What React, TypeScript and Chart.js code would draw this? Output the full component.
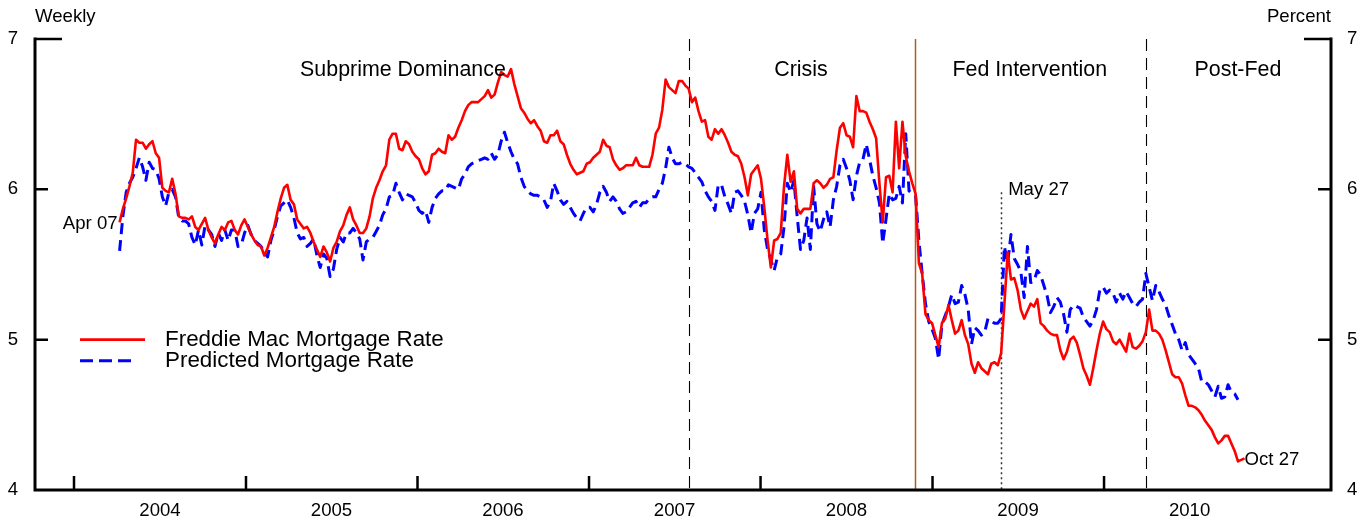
import React, { useEffect, useRef } from "react";
import { Chart, registerables } from "chart.js";
Chart.register(...registerables);

// ---------------- DATA ----------------
const firstWeek = "2004-04-07"; // weekly observations start
const yearLabels = [2004, 2005, 2006, 2007, 2008, 2009, 2010];
const yTickValues = [4, 5, 6, 7];
const regimeNames = ["Subprime Dominance", "Crisis", "Fed Intervention", "Post-Fed"];
const regimeLabelDates = ["2005-12-01", "2008-03-27", "2009-07-27", "2010-10-13"];
const crisisDate = "2007-08-01";
const fedDate = "2008-11-25";
const may27Date = "2009-05-27";
const postFedDate = "2010-03-31";
const seriesNames = ["Freddie Mac Mortgage Rate", "Predicted Mortgage Rate"];

const freddieRate = [
  5.78, 5.87, 5.94, 6.02, 6.11, 6.33, 6.31, 6.31, 6.27, 6.30,
  6.32, 6.24, 6.21, 6.01, 5.99, 5.98, 6.07, 5.97, 5.82, 5.81,
  5.81, 5.80, 5.82, 5.75, 5.73, 5.77, 5.81, 5.73, 5.68, 5.64,
  5.70, 5.75, 5.73, 5.78, 5.79, 5.73, 5.70, 5.76, 5.80, 5.75,
  5.70, 5.66, 5.63, 5.62, 5.56, 5.61, 5.68, 5.75, 5.85, 5.94,
  6.01, 6.03, 5.93, 5.90, 5.80, 5.77, 5.74, 5.75, 5.71, 5.65,
  5.60, 5.55, 5.62, 5.58, 5.52, 5.61, 5.65, 5.72, 5.76, 5.83,
  5.88, 5.80, 5.76, 5.71, 5.71, 5.74, 5.82, 5.94, 6.01, 6.06,
  6.12, 6.16, 6.33, 6.37, 6.37, 6.27, 6.26, 6.32, 6.30, 6.25,
  6.22, 6.20, 6.14, 6.10, 6.12, 6.23, 6.24, 6.27, 6.25, 6.24,
  6.36, 6.33, 6.35, 6.41, 6.46, 6.52, 6.56, 6.58, 6.58, 6.58,
  6.60, 6.62, 6.66, 6.61, 6.63, 6.71, 6.78, 6.76, 6.75, 6.80,
  6.70, 6.62, 6.54, 6.51, 6.47, 6.44, 6.46, 6.42, 6.39, 6.32,
  6.31, 6.36, 6.36, 6.39, 6.32, 6.30, 6.23, 6.17, 6.13, 6.10,
  6.11, 6.12, 6.17, 6.18, 6.21, 6.23, 6.25, 6.33, 6.29, 6.28,
  6.20, 6.16, 6.13, 6.14, 6.16, 6.16, 6.16, 6.21, 6.16, 6.15,
  6.15, 6.15, 6.23, 6.37, 6.41, 6.53, 6.73, 6.68, 6.66, 6.64,
  6.72, 6.72, 6.69, 6.67, 6.58, 6.61, 6.52, 6.45, 6.46, 6.35,
  6.33, 6.40, 6.37, 6.40, 6.36, 6.31, 6.25, 6.23, 6.22, 6.17,
  6.08, 5.96, 6.10, 6.13, 6.16, 6.07, 5.88, 5.66, 5.48, 5.66,
  5.67, 5.71, 6.02, 6.23, 6.05, 6.12, 5.87, 5.84, 5.87, 5.87,
  5.87, 6.04, 6.06, 6.04, 6.01, 6.03, 6.07, 6.08, 6.26, 6.41,
  6.44, 6.36, 6.35, 6.28, 6.62, 6.52, 6.52, 6.51, 6.45, 6.40,
  6.34, 6.04, 5.78, 6.08, 6.09, 5.98, 6.45, 6.14, 6.45, 6.22,
  6.12, 6.04, 5.97, 5.51, 5.44, 5.17, 5.13, 5.11, 5.03, 4.95,
  5.11, 5.14, 5.23, 5.13, 5.04, 5.06, 5.13, 5.03, 4.97, 4.84,
  4.78, 4.85, 4.81, 4.79, 4.77, 4.84, 4.85, 4.83, 4.91, 5.24,
  5.58, 5.40, 5.41, 5.33, 5.20, 5.14, 5.19, 5.24, 5.22, 5.27,
  5.11, 5.09, 5.06, 5.04, 5.03, 5.03, 4.93, 4.87, 4.92, 5.00,
  5.02, 4.98, 4.90, 4.81, 4.76, 4.70, 4.81, 4.93, 5.04, 5.12,
  5.07, 5.05, 4.99, 4.97, 5.00, 4.96, 4.92, 5.04, 4.95, 4.94,
  4.96, 4.99, 5.05, 5.20, 5.06, 5.06, 5.04, 5.00, 4.93, 4.85,
  4.77, 4.75, 4.75, 4.71, 4.63, 4.56, 4.56, 4.55, 4.53, 4.50,
  4.46, 4.43, 4.40, 4.35, 4.31, 4.33, 4.36, 4.36, 4.31, 4.26,
  4.19, 4.20, 4.21,
];

const predictedRate = [
  5.59, 5.82, 5.98, 6.04, 6.08, 6.14, 6.21, 6.15, 6.06, 6.18,
  6.14, 6.13, 6.07, 5.95, 5.89, 5.98, 6.00, 5.95, 5.81, 5.79,
  5.79, 5.77, 5.68, 5.63, 5.73, 5.63, 5.76, 5.73, 5.70, 5.62,
  5.71, 5.66, 5.73, 5.66, 5.73, 5.73, 5.62, 5.63, 5.71, 5.76,
  5.70, 5.66, 5.64, 5.62, 5.58, 5.55, 5.66, 5.73, 5.82, 5.89,
  5.91, 5.93, 5.88, 5.81, 5.71, 5.67, 5.68, 5.62, 5.64, 5.67,
  5.56, 5.48, 5.57, 5.54, 5.42, 5.47, 5.60, 5.68, 5.65, 5.71,
  5.71, 5.74, 5.71, 5.67, 5.53, 5.65, 5.67, 5.68, 5.72, 5.76,
  5.83, 5.87, 5.95, 5.96, 6.04, 5.98, 5.93, 5.97, 5.96, 5.95,
  5.91, 5.86, 5.84, 5.86, 5.78, 5.88, 5.94, 5.97, 5.99, 5.99,
  6.03, 6.02, 6.01, 6.00, 6.07, 6.10, 6.15, 6.17, 6.18, 6.19,
  6.20, 6.21, 6.20, 6.24, 6.20, 6.23, 6.32, 6.38, 6.31, 6.25,
  6.20, 6.17, 6.08, 6.02, 5.99, 5.97, 5.96, 5.96, 5.95, 5.93,
  5.88, 5.92, 6.04, 5.99, 5.93, 5.90, 5.92, 5.88, 5.84, 5.81,
  5.79, 5.84, 5.88, 5.88, 5.85, 5.90, 5.98, 6.02, 5.98, 5.92,
  5.95, 5.92, 5.87, 5.84, 5.85, 5.88, 5.91, 5.92, 5.88, 5.91,
  5.91, 5.94, 5.95, 5.95, 6.00, 6.04, 6.14, 6.28, 6.21, 6.17,
  6.17, 6.18, 6.17, 6.15, 6.14, 6.11, 6.08, 6.05, 5.99, 5.95,
  5.92, 5.86, 6.03, 6.03, 5.95, 5.90, 5.84, 5.98, 5.99, 5.96,
  5.92, 5.83, 5.71, 5.84, 5.87, 5.98, 5.73, 5.60, 5.53, 5.46,
  5.55, 5.57, 5.75, 6.04, 5.98, 6.06, 5.82, 5.60, 5.66, 5.81,
  5.60, 6.02, 5.77, 5.72, 5.80, 5.85, 5.75, 5.93, 6.02, 6.16,
  6.20, 6.14, 6.06, 5.93, 6.09, 6.18, 6.20, 6.30, 6.20, 6.09,
  6.01, 5.91, 5.64, 5.80, 5.97, 5.93, 5.94, 6.02, 5.91, 6.37,
  5.99, 5.97, 5.96, 5.66, 5.44, 5.24, 5.12, 5.07, 5.01, 4.87,
  5.10, 5.16, 5.22, 5.30, 5.24, 5.25, 5.36, 5.30, 5.20, 4.97,
  5.08, 5.06, 5.03, 5.05, 5.14, 5.12, 5.11, 5.11, 5.14, 5.62,
  5.51, 5.70, 5.54, 5.50, 5.45, 5.28, 5.62, 5.38, 5.39, 5.46,
  5.43, 5.36, 5.29, 5.18, 5.22, 5.28, 5.25, 5.17, 5.05, 5.20,
  5.23, 5.22, 5.21, 5.15, 5.12, 5.09, 5.13, 5.20, 5.33, 5.35,
  5.31, 5.33, 5.31, 5.25, 5.31, 5.27, 5.32, 5.28, 5.24, 5.22,
  5.25, 5.27, 5.44, 5.35, 5.26, 5.36, 5.32, 5.27, 5.23, 5.16,
  5.10, 5.04, 5.00, 4.93, 4.98, 4.90, 4.87, 4.84, 4.81, 4.72,
  4.72, 4.70, 4.66, 4.62, 4.69, 4.61, 4.62, 4.70, 4.65, 4.64,
  4.60,
];

// ---------------- helpers ----------------
const ORIGIN = Date.UTC(2004, 0, 1);
const dayNum = (iso: string) => {
  const [yy, mm, dd] = iso.split("-").map(Number);
  return (Date.UTC(yy, mm - 1, dd) - ORIGIN) / 86400000;
};
const startDay = dayNum(firstWeek);
const toPoints = (vals: number[]) => vals.map((v, i) => ({ x: startDay + 7 * i, y: v }));

const FONT = "'Liberation Sans', Arial, Helvetica, sans-serif";

const decorPlugin = {
  id: "decor",
  beforeDatasetsDraw(chart: any) {
    const { ctx, chartArea, scales } = chart;
    const x = scales.x, y = scales.y;
    const vline = (date: string, topVal: number, color: string, width: number, dash: number[]) => {
      const px = Math.round(x.getPixelForValue(dayNum(date))) + 0.5;
      ctx.save();
      ctx.beginPath();
      ctx.strokeStyle = color;
      ctx.lineWidth = width;
      ctx.setLineDash(dash);
      ctx.moveTo(px, y.getPixelForValue(topVal));
      ctx.lineTo(px, chartArea.bottom);
      ctx.stroke();
      ctx.restore();
    };
    vline(crisisDate, 7, "#000", 1.1, [12, 7]);
    vline(postFedDate, 7, "#000", 1.1, [12, 7]);
    vline(fedDate, 7, "#b85a1e", 1.5, []);
    vline(may27Date, 5.98, "#333", 1.5, [2, 3]);
  },
  afterDatasetsDraw(chart: any) {
    const { ctx, chartArea, scales } = chart;
    const x = scales.x, y = scales.y;
    const L = chartArea.left, R = chartArea.right, B = chartArea.bottom;
    ctx.save();
    ctx.strokeStyle = "#000";
    ctx.fillStyle = "#000";
    ctx.setLineDash([]);
    // axes
    ctx.lineWidth = 3;
    ctx.beginPath();
    ctx.moveTo(L, y.getPixelForValue(7) - 1.5);
    ctx.lineTo(L, B);
    ctx.lineTo(R, B);
    ctx.lineTo(R, y.getPixelForValue(7) - 1.5);
    ctx.stroke();
    // y ticks (inward)
    ctx.lineWidth = 2.5;
    for (const v of yTickValues) {
      if (v === 4) continue;
      const py = y.getPixelForValue(v);
      const len = v === 7 ? 27 : 13;
      ctx.beginPath();
      ctx.moveTo(L, py); ctx.lineTo(L + len, py);
      ctx.moveTo(R, py); ctx.lineTo(R - len, py);
      ctx.stroke();
    }
    // x ticks at year starts
    for (const yr of yearLabels) {
      const px = x.getPixelForValue(dayNum(`${yr}-01-01`));
      ctx.beginPath();
      ctx.moveTo(px, B); ctx.lineTo(px, B - 14);
      ctx.stroke();
    }
    // tick labels
    ctx.font = `18.6px ${FONT}`;
    ctx.textBaseline = "middle";
    for (const v of yTickValues) {
      const py = y.getPixelForValue(v);
      ctx.textAlign = "right";
      ctx.fillText(String(v), L - 17, py);
      ctx.textAlign = "left";
      ctx.fillText(String(v), R + 16, py);
    }
    ctx.textAlign = "center";
    for (const yr of yearLabels) {
      const px = x.getPixelForValue(dayNum(`${yr}-07-02`));
      ctx.fillText(String(yr), px, B + 21);
    }
    // axis titles
    ctx.textAlign = "left";
    ctx.fillText("Weekly", L, 17);
    ctx.textAlign = "right";
    ctx.fillText("Percent", R, 17);
    // point annotations
    ctx.textAlign = "right";
    ctx.fillText("Apr 07", x.getPixelForValue(startDay) - 2, y.getPixelForValue(freddieRate[0]) + 1);
    ctx.textAlign = "left";
    ctx.fillText("May 27", x.getPixelForValue(dayNum(may27Date)) + 7, y.getPixelForValue(6.0) + 1);
    const lastDay = startDay + 7 * (freddieRate.length - 1);
    ctx.fillText("Oct 27", x.getPixelForValue(lastDay), y.getPixelForValue(freddieRate[freddieRate.length - 1]) + 1);
    // regime labels
    ctx.font = `21.4px ${FONT}`;
    ctx.textAlign = "center";
    regimeNames.forEach((name, k) => {
      ctx.fillText(name, x.getPixelForValue(dayNum(regimeLabelDates[k])), y.getPixelForValue(6.79));
    });
    // legend
    const ly1 = y.getPixelForValue(5.0);
    const ly2 = ly1 + 21;
    ctx.lineWidth = 2.7;
    ctx.strokeStyle = "#ff0000";
    ctx.beginPath();
    ctx.moveTo(L + 45, ly1); ctx.lineTo(L + 110, ly1);
    ctx.stroke();
    ctx.strokeStyle = "#0000ff";
    ctx.lineWidth = 3;
    ctx.setLineDash([13, 6]);
    ctx.beginPath();
    ctx.moveTo(L + 45, ly2); ctx.lineTo(L + 100, ly2);
    ctx.stroke();
    ctx.setLineDash([]);
    ctx.font = `22.4px ${FONT}`;
    ctx.textAlign = "left";
    ctx.fillText(seriesNames[0], L + 130, ly1);
    ctx.fillText(seriesNames[1], L + 130, ly2);
    ctx.restore();
  },
};

export default function App() {
  const ref = useRef<HTMLCanvasElement | null>(null);
  useEffect(() => {
    if (!ref.current) return;
    const chart = new Chart(ref.current, {
      type: "line",
      data: {
        datasets: [
          {
            label: seriesNames[0],
            data: toPoints(freddieRate),
            borderColor: "#ff0000",
            borderWidth: 2.6,
            pointRadius: 0,
            tension: 0,
            borderJoinStyle: "round",
            fill: false,
          },
          {
            label: seriesNames[1],
            data: toPoints(predictedRate),
            borderColor: "#0000ff",
            borderWidth: 3,
            borderDash: [11, 6],
            pointRadius: 0,
            tension: 0,
            borderJoinStyle: "round",
            fill: false,
          },
        ],
      },
      options: {
        animation: false,
        responsive: false,
        devicePixelRatio: 1,
        layout: { padding: { left: 35, top: 39, right: 38, bottom: 35 } },
        plugins: { legend: { display: false }, tooltip: { enabled: false } },
        scales: {
          x: { type: "linear", min: -83, max: 2675, display: false },
          y: { type: "linear", min: 4, max: 7, display: false },
        },
      },
      plugins: [decorPlugin],
    } as any);
    return () => chart.destroy();
  }, []);
  return (
    <canvas
      ref={ref}
      width={1369}
      height={525}
      style={{ position: "fixed", left: 0, top: 0, width: 1369, height: 525, background: "#fff" }}
    />
  );
}
